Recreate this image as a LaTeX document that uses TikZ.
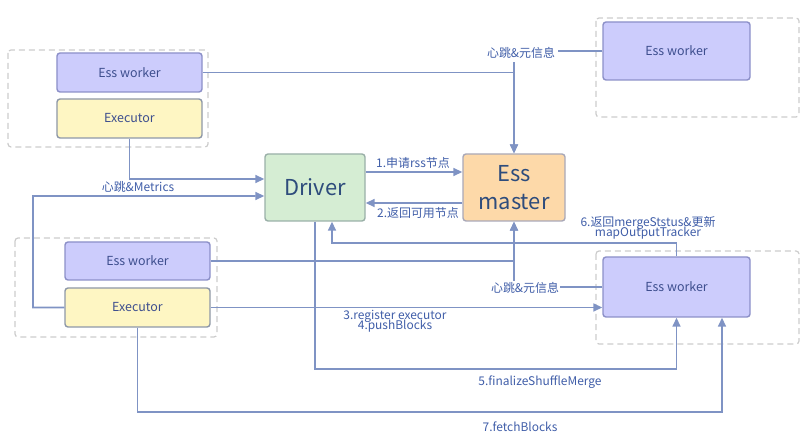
\documentclass[tikz,border=0pt]{standalone}
\usepackage{fontspec}
\setmainfont{Noto Sans CJK SC}
\usetikzlibrary{arrows.meta}
\definecolor{lineC}{HTML}{7F93C4}
\definecolor{lblC}{HTML}{3F5DA8}
\definecolor{boxT}{HTML}{3D4E8E}
\definecolor{workF}{HTML}{CCCCFC}
\definecolor{workD}{HTML}{8C90C8}
\definecolor{execF}{HTML}{FEF6C3}
\definecolor{execD}{HTML}{8E98A8}
\definecolor{drvF}{HTML}{D5EDD3}
\definecolor{drvD}{HTML}{9AB0A8}
\definecolor{mstF}{HTML}{FDD9A9}
\definecolor{mstD}{HTML}{A9A8B8}
\definecolor{grpD}{HTML}{CCCCCC}
\definecolor{bigT}{HTML}{2E4C7C}
\tikzset{
  boxbase/.style={draw, line width=1.4bp, rounded corners=3bp, inner sep=0pt, text=boxT, font=\fontsize{12.5}{14}\selectfont},
  worker/.style={boxbase, fill=workF, draw=workD},
  execbox/.style={boxbase, fill=execF, draw=execD},
  bigbox/.style={boxbase, text=bigT, font=\fontsize{22}{25}\selectfont, align=center},
  group/.style={draw=grpD, dashed, dash pattern=on 6bp off 4bp, line width=1.2bp, rounded corners=3bp},
  conn/.style={draw=lineC, line width=1.6bp},
  arr/.style={conn, -{Triangle[length=9bp,width=8bp]}},
  lbl/.style={text=lblC, font=\fontsize{12}{13.5}\selectfont, inner sep=1bp, align=center},
}
\begin{document}
\begin{tikzpicture}[x=1bp,y=-1bp]
\useasboundingbox (0,0) rectangle (811,443);
% groups
\draw[group] (8,50) rectangle (208,147);
\draw[group] (596,18) rectangle (799,117);
\draw[group] (15,238) rectangle (217,337);
\draw[group] (596,251) rectangle (799,344);
% nodes
\node[worker, minimum width=145bp, minimum height=39bp] (tlw) at (129.5,72.5) {Ess worker};
\node[execbox, minimum width=145bp, minimum height=39bp] (tle) at (129.5,118.5) {Executor};
\node[worker, minimum width=147bp, minimum height=58bp] (trw) at (676.5,51) {Ess worker};
\node[bigbox, fill=drvF, draw=drvD, minimum width=100bp, minimum height=67bp] (drv) at (315,187.5) {Driver};
\node[bigbox, fill=mstF, draw=mstD, minimum width=102bp, minimum height=67bp] (mst) at (514,187.5) {Ess\\[3bp]master};
\node[worker, minimum width=145bp, minimum height=38bp] (blw) at (137.5,261) {Ess worker};
\node[execbox, minimum width=145bp, minimum height=39bp] (ble) at (137.5,307.5) {Executor};
\node[worker, minimum width=147bp, minimum height=60bp] (brw) at (676.5,287) {Ess worker};
% coordinates
\coordinate (c2) at (33,196);
\coordinate (c9) at (332,243);
\coordinate (c11) at (676.5,369);
\coordinate (c12) at (722,412);
% connectors
\draw[arr] (tle.south) |- ([yshift=8.5bp]drv.west);
\draw[arr] (ble.west) -| (c2) -- ([yshift=-8.5bp]drv.west);
\node[lbl] (l1) at (138,187) {心跳\&Metrics};
\draw[arr] (tlw.east) -| (mst.north);
\draw[arr] (trw.west) -| (mst.north);
\node[lbl, fill=white, inner sep=3bp] (l2) at (521,53) {心跳\&元信息};
\draw[arr] ([yshift=15.5bp]drv.east) -- ([yshift=15.5bp]mst.west);
\node[lbl] (l3) at (413,163) {1.申请rss节点};
\draw[arr] ([yshift=-15.5bp]mst.west) -- ([yshift=-15.5bp]drv.east);
\node[lbl] (l4) at (418,213) {2.返回可用节点};
\draw[arr] (blw.east) -| (mst.south);
\draw[arr] (brw.west) -| (mst.south);
\node[lbl, fill=white] (l5) at (525,288) {心跳\&元信息};
\draw[arr] (brw.north) |- (c9) -- (c9 |- drv.south);
\node[lbl] (l6) at (648,228) {6.返回mergeStstus\&更新\\[-3bp]mapOutputTracker};
\draw[arr] (ble.east) -- (ble.east -| brw.west);
\node[lbl] (l7) at (395,321) {3.register executor\\[-3bp]4.pushBlocks};
\draw[arr] (drv.south) |- (c11) -- (brw.south);
\node[lbl] (l8) at (540,382) {5.finalizeShuffleMerge};
\draw[arr] (ble.south) |- (c12) -- (c12 |- brw.south);
\node[lbl] (l9) at (520,427) {7.fetchBlocks};
\end{tikzpicture}
\end{document}
